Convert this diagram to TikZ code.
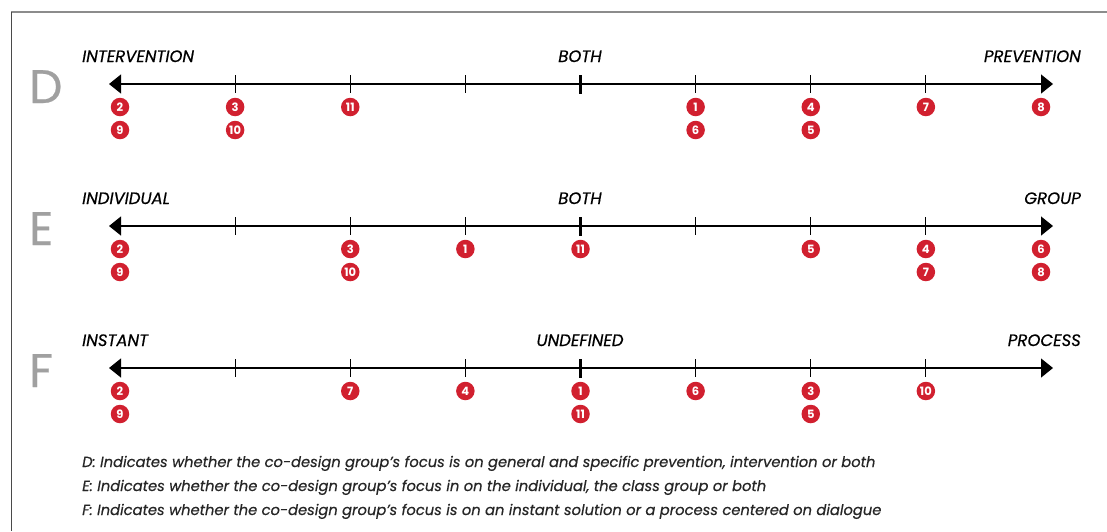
\documentclass[tikz,border=0pt]{standalone}
\usepackage{fontspec}
\setmainfont{Poppins}
\newfontfamily\heavyfont{Poppins}[FakeBold=0.5]
\usetikzlibrary{arrows.meta}
\definecolor{pinred}{HTML}{D1202F}
\definecolor{lettergray}{HTML}{A0A0A0}
\definecolor{framegray}{HTML}{8C8C8C}
\definecolor{edgegray}{HTML}{4A4A4A}
\begin{document}
\begin{tikzpicture}[x=1pt,y=-1pt,
  axis/.style={line width=1.3pt,{Triangle[length=12pt,width=19pt]}-{Triangle[length=12pt,width=19pt]}},
  tick/.style={line width=0.9pt},
  midtick/.style={line width=3pt},
  pin/.style={circle,fill=pinred,text=white,inner sep=0pt,minimum size=18.5pt,font=\bfseries\fontsize{11.5}{11.5}\selectfont},
  endlabel/.style={inner sep=0pt,font=\heavyfont\itshape\fontsize{16.5}{16.5}\selectfont},
  rowletter/.style={anchor=base west,inner sep=0pt,text=lettergray,font=\heavyfont\fontsize{47}{47}\selectfont},
  note/.style={anchor=base west,inner sep=0pt,text=black!85,font=\heavyfont\itshape\fontsize{14.7}{14.7}\selectfont}]
\useasboundingbox (0,0) rectangle (1107,531);

% frame
\coordinate (tl) at (11,12);
\coordinate (tr) at (1107,12);
\coordinate (bl) at (11,531);
\draw[framegray,line width=2pt] (tl) -- (tr);
\draw[edgegray,line width=1pt] (tl) -- (bl);

% D: prevention / intervention
\node[rowletter] (dletter) at (29,103) {D};
\node[endlabel,anchor=base west] (dleft) at (82,62) {INTERVENTION};
\node[endlabel,anchor=base] (dmid) at (580,62) {BOTH};
\node[endlabel,anchor=base east] (dright) at (1081,62) {PREVENTION};
\coordinate (dL) at (109,84);
\coordinate (dR) at (1053,84);
\draw[axis] (dL) -- (dR);
\foreach \i in {1,2,3,5,6,7}
  \draw[tick] (120+115.125*\i,75) -- (120+115.125*\i,93);
\draw[midtick] (580.5,75) -- (580.5,94);
\foreach \p/\r/\n in {0/0/2,0/1/9,1/0/3,1/1/10,2/0/11,5/0/1,5/1/6,6/0/4,6/1/5,7/0/7,8/0/8}
  \node[pin] (d\n) at (120+115.125*\p,107+23*\r) {\n};

% E: individual / group
\node[rowletter] (eletter) at (29,245) {E};
\node[endlabel,anchor=base west] (eleft) at (82,204) {INDIVIDUAL};
\node[endlabel,anchor=base] (emid) at (580,204) {BOTH};
\node[endlabel,anchor=base east] (eright) at (1081,204) {GROUP};
\coordinate (eL) at (109,226);
\coordinate (eR) at (1053,226);
\draw[axis] (eL) -- (eR);
\foreach \i in {1,2,3,5,6,7}
  \draw[tick] (120+115.125*\i,217) -- (120+115.125*\i,235);
\draw[midtick] (580.5,217) -- (580.5,236);
\foreach \p/\r/\n in {0/0/2,0/1/9,2/0/3,2/1/10,3/0/1,4/0/11,6/0/5,7/0/4,7/1/7,8/0/6,8/1/8}
  \node[pin] (e\n) at (120+115.125*\p,249+23*\r) {\n};

% F: instant / process
\node[rowletter] (fletter) at (29,387) {F};
\node[endlabel,anchor=base west] (fleft) at (82,346) {INSTANT};
\node[endlabel,anchor=base] (fmid) at (580,346) {UNDEFINED};
\node[endlabel,anchor=base east] (fright) at (1081,346) {PROCESS};
\coordinate (fL) at (109,368);
\coordinate (fR) at (1053,368);
\draw[axis] (fL) -- (fR);
\foreach \i in {1,2,3,5,6,7}
  \draw[tick] (120+115.125*\i,359) -- (120+115.125*\i,377);
\draw[midtick] (580.5,359) -- (580.5,378);
\foreach \p/\r/\n in {0/0/2,0/1/9,2/0/7,3/0/4,4/0/1,4/1/11,5/0/6,6/0/3,6/1/5,7/0/10}
  \node[pin] (f\n) at (120+115.125*\p,391+23*\r) {\n};

% notes
\node[note] (dnote) at (82,467) {D: Indicates whether the co-design group’s focus is on general and specific prevention, intervention or both};
\node[note] (enote) at (82,491) {E: Indicates whether the co-design group’s focus in on the individual, the class group or both};
\node[note] (fnote) at (82,515) {F: Indicates whether the co-design group’s focus is on an instant solution or a process centered on dialogue};
\end{tikzpicture}
\end{document}
